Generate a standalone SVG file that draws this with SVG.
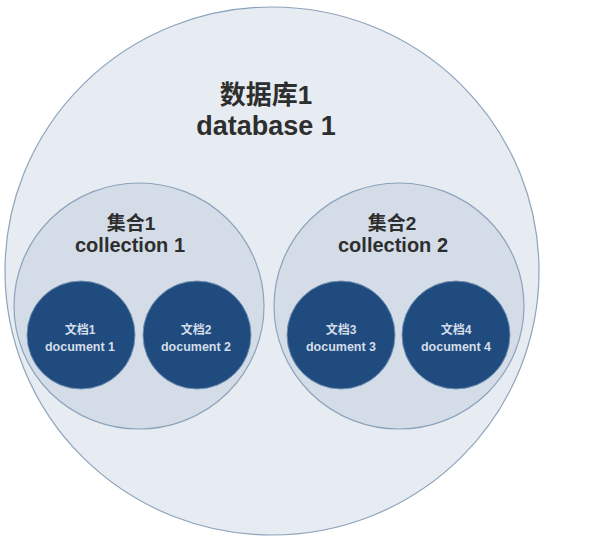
<svg xmlns="http://www.w3.org/2000/svg" width="610" height="553" viewBox="0 0 610 553">
<style>
.db{fill:#e6ecf2;stroke:#8da3bb;stroke-width:1.2}
.col{fill:#d3dce7;stroke:#8da3bb;stroke-width:1.2}
.doc{fill:#1f4b7f;stroke:#6f8fb3;stroke-width:1}
.t{font-family:"Liberation Sans","Noto Sans CJK SC",sans-serif;font-weight:bold;text-anchor:middle;fill:#2e2e2e}
.dt{font-family:"Liberation Sans","Noto Sans CJK SC",sans-serif;font-weight:bold;text-anchor:middle;fill:#d5dde8}
</style>
<rect width="610" height="553" fill="#ffffff"/>
<g id="database1">
<ellipse class="db" cx="272" cy="271" rx="267" ry="264"/>
<text class="t" x="266" y="104" font-size="26" fill="#3a3a3a">数据库1</text>
<text class="t" x="266" y="135" font-size="27">database 1</text>
</g>
<g id="collection1">
<ellipse class="col" cx="139" cy="306" rx="125" ry="123"/>
<text class="t" x="131" y="230" font-size="19">集合1</text>
<text class="t" x="130" y="252" font-size="20">collection 1</text>
</g>
<g id="collection2">
<ellipse class="col" cx="399" cy="306" rx="125" ry="123"/>
<text class="t" x="392" y="230" font-size="19">集合2</text>
<text class="t" x="393" y="252" font-size="20">collection 2</text>
</g>
<g id="doc1">
<circle class="doc" cx="81" cy="335" r="54"/>
<text class="dt" x="80" y="334" font-size="12">文档1</text>
<text class="dt" x="80" y="351" font-size="12.5">document 1</text>
</g>
<g id="doc2">
<circle class="doc" cx="197" cy="335" r="54"/>
<text class="dt" x="196" y="334" font-size="12">文档2</text>
<text class="dt" x="196" y="351" font-size="12.5">document 2</text>
</g>
<g id="doc3">
<circle class="doc" cx="341" cy="335" r="54"/>
<text class="dt" x="341" y="334" font-size="12">文档3</text>
<text class="dt" x="341" y="351" font-size="12.5">document 3</text>
</g>
<g id="doc4">
<circle class="doc" cx="456" cy="335" r="54"/>
<text class="dt" x="456" y="334" font-size="12">文档4</text>
<text class="dt" x="456" y="351" font-size="12.5">document 4</text>
</g>
</svg>
